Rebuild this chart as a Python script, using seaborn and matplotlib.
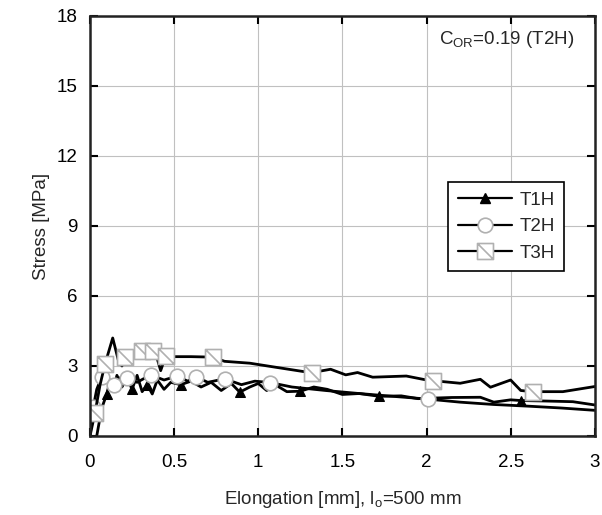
import numpy as np
import pandas as pd
import matplotlib
matplotlib.use('Agg')
import matplotlib.pyplot as plt
from matplotlib.path import Path
from matplotlib.lines import Line2D
import seaborn as sns

# T1H - triangles (jagged)
t1_x = [0.04, 0.07, 0.10, 0.12, 0.14, 0.16, 0.19, 0.22, 0.25, 0.28, 0.31, 0.34, 0.37, 0.40,
        0.44, 0.48, 0.54, 0.60, 0.66, 0.72, 0.78, 0.84, 0.89, 0.95, 1.00, 1.05, 1.10, 1.17,
        1.25, 1.33, 1.41, 1.50, 1.60, 1.72, 1.85, 1.95, 2.02, 2.15, 2.32, 2.40, 2.50, 2.56,
        2.70, 2.87, 3.00]
t1_y = [0.0, 1.2, 1.8, 2.4, 2.0, 2.6, 2.1, 2.5, 2.0, 2.6, 1.9, 2.2, 1.8, 2.4,
        2.0, 2.3, 2.2, 2.35, 2.1, 2.3, 1.95, 2.25, 1.88, 2.1, 2.25, 1.95, 2.2, 1.9,
        1.92, 2.1, 2.0, 1.78, 1.82, 1.7, 1.72, 1.6, 1.62, 1.65, 1.66, 1.45, 1.55, 1.52,
        1.5, 1.47, 1.33]
t1_marks = [2, 8, 11, 16, 22, 28, 33, 41]

# T2H - circles
t2_x = [0.0, 0.02, 0.04, 0.07, 0.10, 0.14, 0.18, 0.22, 0.28, 0.36, 0.44, 0.52, 0.58, 0.63,
        0.70, 0.80, 0.90, 0.98, 1.07, 1.20, 1.40, 1.60, 1.80, 2.01, 2.20, 2.40, 2.60, 2.80, 3.00]
t2_y = [0.0, 1.25, 2.0, 2.54, 2.4, 2.2, 2.5, 2.47, 2.3, 2.62, 2.4, 2.57, 2.35, 2.54,
        2.3, 2.45, 2.2, 2.35, 2.29, 2.1, 1.95, 1.82, 1.7, 1.58, 1.45, 1.35, 1.28, 1.2, 1.1]
t2_marks = [1, 3, 5, 7, 9, 11, 13, 15, 18, 23]

# T3H - slashed squares
t3_x = [0.0, 0.03, 0.06, 0.09, 0.135, 0.17, 0.19, 0.21, 0.25, 0.31, 0.34, 0.375, 0.40, 0.42,
        0.45, 0.50, 0.60, 0.73, 0.80, 0.95, 1.10, 1.27, 1.32, 1.43, 1.52, 1.59, 1.68, 1.88,
        2.00, 2.04, 2.20, 2.32, 2.38, 2.50, 2.56, 2.63, 2.81, 3.00]
t3_y = [0.0, 1.0, 2.2, 3.1, 4.2, 3.2, 3.0, 3.4, 3.5, 3.66, 3.4, 3.66, 3.3, 2.8,
        3.43, 3.4, 3.4, 3.38, 3.2, 3.12, 2.95, 2.76, 2.72, 2.86, 2.62, 2.72, 2.52, 2.57,
        2.4, 2.37, 2.26, 2.43, 2.09, 2.4, 1.95, 1.9, 1.9, 2.12]
t3_marks = [1, 3, 7, 9, 11, 14, 17, 22, 29, 35]

x_ticks = [0, 0.5, 1, 1.5, 2, 2.5, 3]
x_labels = ['0', '0.5', '1', '1.5', '2', '2.5', '3']
y_ticks = [0, 3, 6, 9, 12, 15, 18]

sns.set_style('ticks')
plt.rcParams['font.family'] = ['Liberation Sans', 'DejaVu Sans']
plt.rcParams['mathtext.fontset'] = 'custom'
plt.rcParams['mathtext.rm'] = 'Liberation Sans'
plt.rcParams['mathtext.it'] = 'Liberation Sans'

# square with a diagonal slash
slash_sq = Path([(-1, -1), (1, -1), (1, 1), (-1, 1), (-1, -1), (-1, 1), (1, -1)],
                [Path.MOVETO, Path.LINETO, Path.LINETO, Path.LINETO, Path.CLOSEPOLY,
                 Path.MOVETO, Path.LINETO])

fig = plt.figure(figsize=(6.02, 5.15), dpi=100)
ax = fig.add_axes([0.1495, 0.1534, 0.8385, 0.8156])

gray = '#b0b0b0'
styles = {
    'T1H': dict(marker='^', markersize=7.5, markerfacecolor='black', markeredgecolor='black'),
    'T2H': dict(marker='o', markersize=10.5, markerfacecolor='white', markeredgecolor=gray,
                markeredgewidth=1.2),
    'T3H': dict(marker=slash_sq, markersize=11.5, markerfacecolor='white', markeredgecolor=gray,
                markeredgewidth=1.2),
}

for name, xs, ys, mk in [('T1H', t1_x, t1_y, t1_marks),
                         ('T2H', t2_x, t2_y, t2_marks),
                         ('T3H', t3_x, t3_y, t3_marks)]:
    df = pd.DataFrame({'x': xs, 'y': ys})
    sns.lineplot(data=df, x='x', y='y', ax=ax, sort=False, estimator=None,
                 color='black', linewidth=2.0, markevery=mk, **styles[name])

ax.set_xlim(0, 3)
ax.set_ylim(0, 18)
ax.set_xticks(x_ticks)
ax.set_xticklabels(x_labels)
ax.set_yticks(y_ticks)
ax.grid(True, color='#c0c0c0', linewidth=0.8)
ax.tick_params(direction='in', length=6, width=1.5, top=True, right=True,
               labelsize=13.5, pad=9, colors='black')
ax.tick_params(axis='x', pad=13)
for s in ax.spines.values():
    s.set_linewidth(1.8)
    s.set_color('#222222')

ax.set_xlabel(r'Elongation [mm], l$_{\mathregular{o}}$=500 mm', fontsize=13.5, labelpad=13)
ax.set_ylabel('Stress [MPa]', fontsize=13.5, labelpad=5)

ax.text(0.96, 0.945, r'C$_{\mathregular{OR}}$=0.19 (T2H)', transform=ax.transAxes,
        ha='right', va='center', fontsize=13.5)

handles = [Line2D([], [], color='black', linewidth=1.6, **styles[n]) for n in ['T1H', 'T2H', 'T3H']]
leg = ax.legend(handles, ['T1H', 'T2H', 'T3H'], loc='upper left', bbox_to_anchor=(0.71, 0.604),
                fontsize=13.5, frameon=True, fancybox=False, edgecolor='black',
                handlelength=2.9, handletextpad=0.4, borderpad=0.5, labelspacing=0.5,
                borderaxespad=0)
leg.get_frame().set_linewidth(1.2)
leg.get_frame().set_alpha(1)

fig.savefig('out.png', dpi=100)
